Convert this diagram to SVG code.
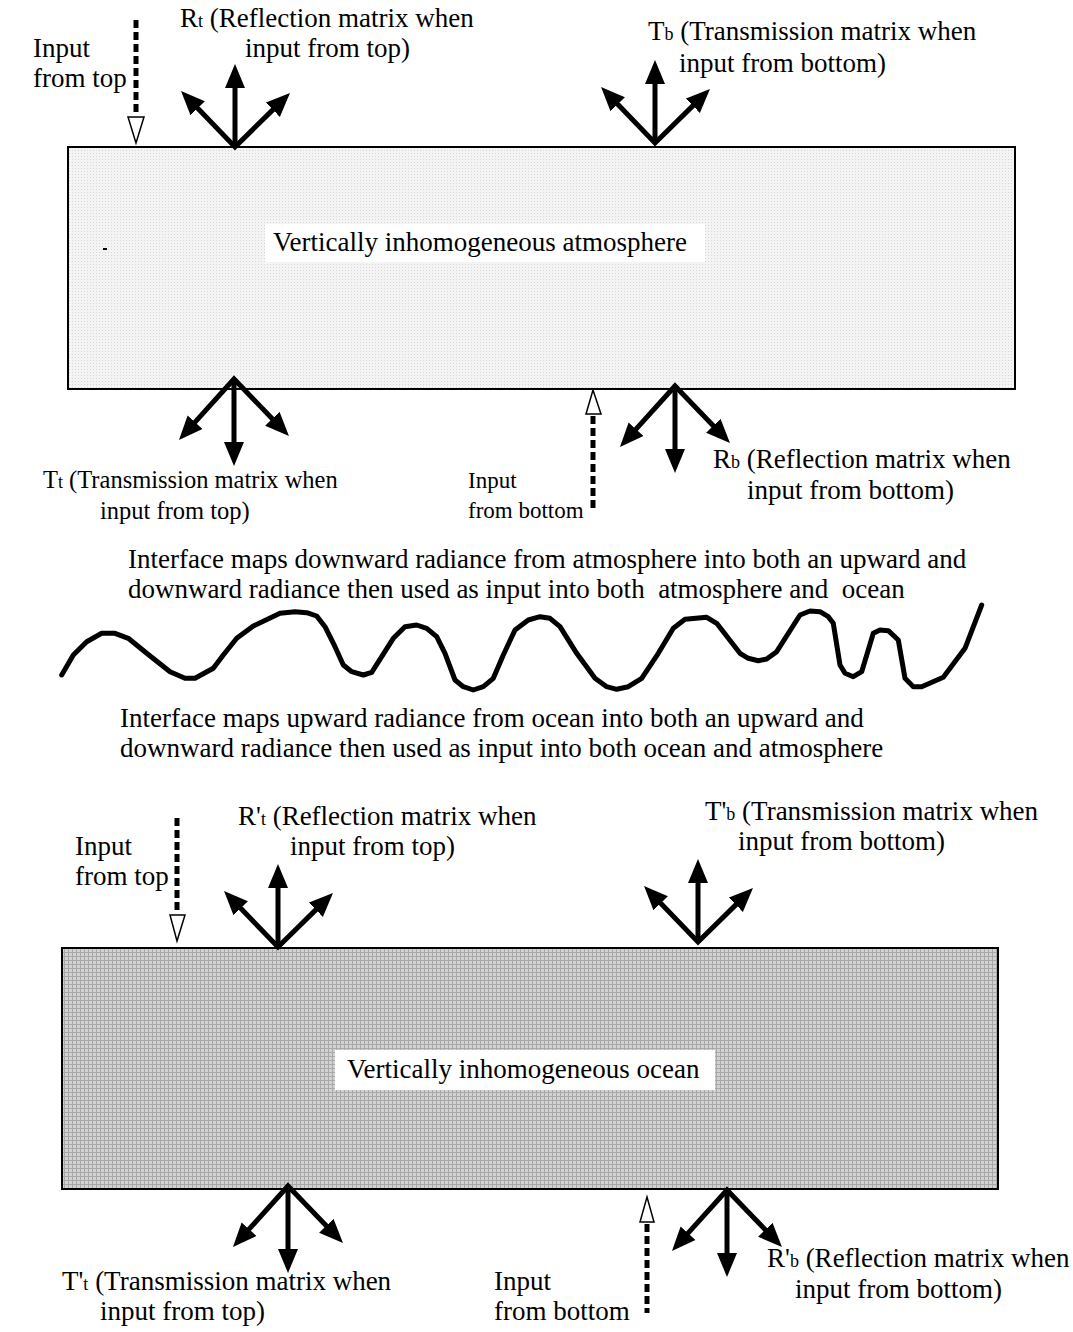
<svg xmlns="http://www.w3.org/2000/svg" width="1073" height="1332" viewBox="0 0 1073 1332">
<style>
text{font-family:"Liberation Serif","Times New Roman",serif;font-size:27px;fill:#000}
.sub{font-size:18px}
.sm{font-size:24.5px}
.xs{font-size:23px}
.fan{fill:none;stroke:#000;stroke-width:5;stroke-linejoin:miter;stroke-miterlimit:10}
.dash{fill:none;stroke:#000;stroke-width:5;stroke-dasharray:8 4}
.open{fill:#fff;stroke:#000;stroke-width:1.5}
.wave{fill:none;stroke:#000;stroke-width:5;stroke-linejoin:round;stroke-linecap:round}
</style>
<defs>
<pattern id="pAtm" width="3" height="3" patternUnits="userSpaceOnUse">
<rect width="3" height="3" fill="#f4f4f4"/><rect width="1" height="1" fill="#d6d6d6"/>
</pattern>
<pattern id="pOcean" width="4" height="4" patternUnits="userSpaceOnUse">
<rect width="4" height="4" fill="#d2d2d2"/><rect width="4" height="1" fill="#a8a8a8"/><rect width="1" height="4" fill="#a8a8a8"/>
</pattern>
<marker id="ah" markerUnits="userSpaceOnUse" markerWidth="26" markerHeight="22" viewBox="0 -11 26 22" refX="2" refY="0" orient="auto-start-reverse">
<path d="M0,-10 L24,0 L0,10 z" fill="#000"/>
</marker>
<g id="fanUp">
<path class="fan" d="M-38.7,-40.2 L0,0 L39.3,-38.6" marker-start="url(#ah)" marker-end="url(#ah)"/>
<path class="fan" d="M0,0 L0,-61" marker-end="url(#ah)"/>
</g>
<g id="fanDown">
<path class="fan" d="M-40.3,44.7 L0,0 L39.7,41.2" marker-start="url(#ah)" marker-end="url(#ah)"/>
<path class="fan" d="M0,0 L0,65" marker-end="url(#ah)"/>
</g>
</defs>
<rect width="1073" height="1332" fill="#fff"/>

<g id="atmosphere">
<rect x="68" y="147" width="947" height="242" fill="url(#pAtm)" stroke="#000" stroke-width="2"/>
<rect x="103" y="248" width="4" height="2" fill="#000"/>
<rect x="265" y="224" width="440" height="38" fill="#fff"/>
<text x="273" y="251">Vertically inhomogeneous atmosphere</text>
</g>

<g id="ocean">
<rect x="62" y="948" width="936" height="241" fill="url(#pOcean)" stroke="#000" stroke-width="2"/>
<rect x="335" y="1050" width="380" height="40" fill="#fff"/>
<text x="347" y="1078">Vertically inhomogeneous ocean</text>
</g>

<g id="interface">
<polyline class="wave" points="61.7,675 73.3,655 86.7,641.7 101.7,633.3 115,633.3 128.3,638.3 146.7,653.3 170,671.7 185,678.3 195,678.3 213.3,668.3 223.3,655 236.7,638.3 253.3,626 280,613.3 295,611.7 306.7,612.7 316.7,616 325,626.7 335,646.7 343.3,665 351.7,671.7 363.3,675 371.7,672.3 381.7,656.7 393.3,638.3 405,626.7 416.7,625 426.7,628.3 436.7,636.7 445,653.3 455,680 463.3,686.7 473.3,690 483.3,686.7 493.3,678.3 503.3,655 515,630 528.3,620 540,616.7 550,618.3 560,626.7 576.7,653.3 595,678.3 606.7,686.7 616.7,689.3 628.3,686.7 641.7,678.3 658.3,653.3 673.3,628.3 685,619.3 706.7,617.3 716.7,623.3 740,653.3 748.3,658.3 758.3,660.7 766.7,659 776.7,651.7 800,615 810,611 820,611.7 828.3,616.7 833.3,623.3 840,665 845,673.3 853.3,676.7 861.7,671.7 873.3,633.3 880,630 888.3,630.7 898.3,640 905,678.3 913.3,686.7 921.7,686.7 943.3,677.3 965,648.3 981.7,605"/>
<text x="128" y="568">Interface maps downward radiance from atmosphere into both an upward and</text>
<text x="128" y="598" xml:space="preserve">downward radiance then used as input into both  atmosphere and  ocean</text>
<text x="120" y="727">Interface maps upward radiance from ocean into both an upward and</text>
<text x="120" y="757">downward radiance then used as input into both ocean and atmosphere</text>
</g>

<g id="connectors">
<use href="#fanUp" x="235" y="147"/>
<use href="#fanUp" x="655" y="143"/>
<use href="#fanDown" x="234" y="379"/>
<use href="#fanDown" x="675" y="386"/>
<use href="#fanUp" x="278" y="947"/>
<use href="#fanUp" x="698" y="942"/>
<use href="#fanDown" x="288" y="1186"/>
<use href="#fanDown" x="727" y="1190"/>
<line class="dash" x1="136" y1="20" x2="136" y2="114"/>
<polygon class="open" points="128,117 144,117 136,143"/>
<line class="dash" x1="593" y1="416" x2="593" y2="508"/>
<polygon class="open" points="586,414 601,414 593,390"/>
<line class="dash" x1="177" y1="818" x2="177" y2="912"/>
<polygon class="open" points="170,915 185,915 177,941"/>
<line class="dash" x1="647" y1="1224" x2="647" y2="1313"/>
<polygon class="open" points="640,1222 654,1222 647,1197"/>
</g>

<g id="labels">
<text x="33" y="57">Input</text>
<text x="33" y="87">from top</text>
<text x="180" y="27">R<tspan class="sub">t</tspan> (Reflection matrix when</text>
<text x="245" y="57">input from top)</text>
<text x="648" y="40">T<tspan class="sub">b</tspan> (Transmission matrix when</text>
<text x="679" y="72">input from bottom)</text>
<text class="sm" x="43" y="488">T<tspan class="sub">t</tspan> (Transmission matrix when</text>
<text class="sm" x="100" y="519">input from top)</text>
<text class="xs" x="468" y="488">Input</text>
<text class="xs" x="468" y="518">from bottom</text>
<text x="713" y="468">R<tspan class="sub">b</tspan> (Reflection matrix when</text>
<text x="747" y="499">input from bottom)</text>
<text x="75" y="855">Input</text>
<text x="75" y="885">from top</text>
<text x="238" y="825">R'<tspan class="sub">t</tspan> (Reflection matrix when</text>
<text x="290" y="855">input from top)</text>
<text x="705" y="820">T'<tspan class="sub">b</tspan> (Transmission matrix when</text>
<text x="738" y="850">input from bottom)</text>
<text x="62" y="1290">T'<tspan class="sub">t</tspan> (Transmission matrix when</text>
<text x="100" y="1320">input from top)</text>
<text x="494" y="1290">Input</text>
<text x="494" y="1320">from bottom</text>
<text x="767" y="1267">R'<tspan class="sub">b</tspan> (Reflection matrix when</text>
<text x="795" y="1298">input from bottom)</text>
</g>
</svg>
